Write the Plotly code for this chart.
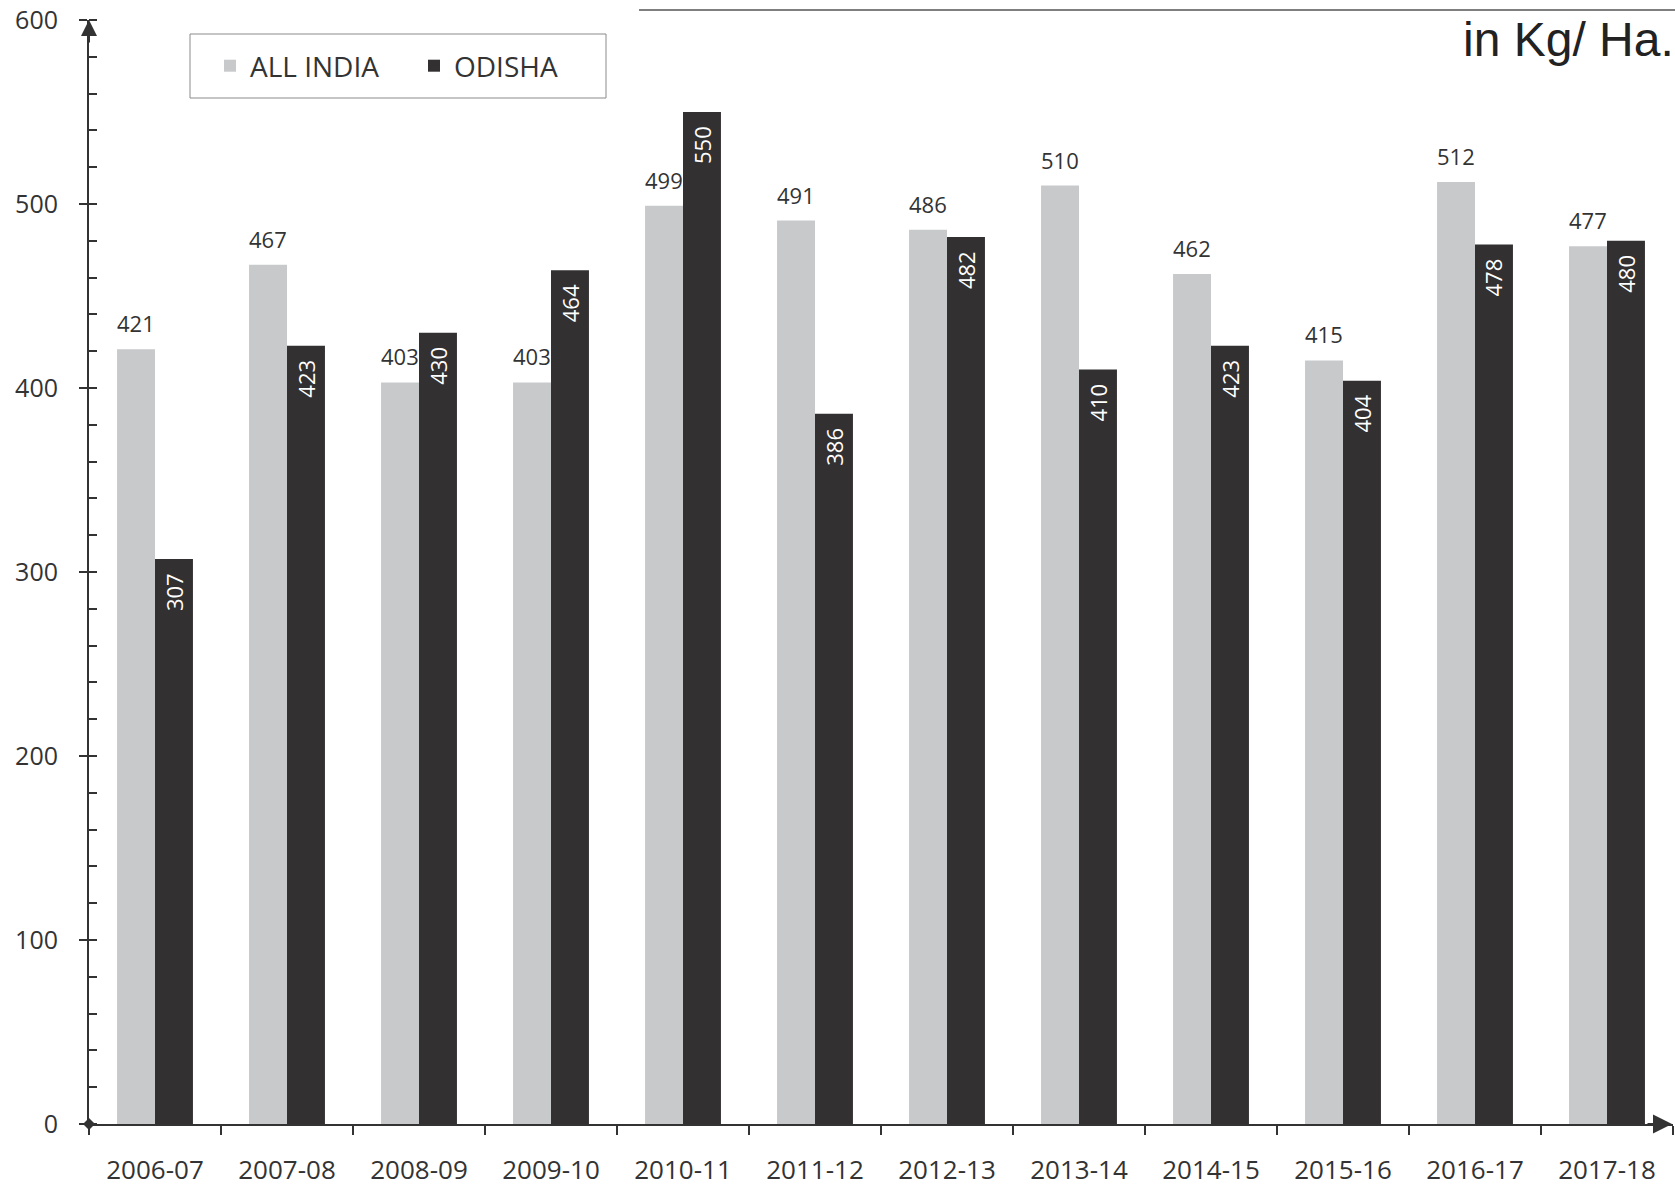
import plotly.graph_objects as go

years = ["2006-07", "2007-08", "2008-09", "2009-10", "2010-11", "2011-12",
         "2012-13", "2013-14", "2014-15", "2015-16", "2016-17", "2017-18"]
all_india = [421, 467, 403, 403, 499, 491, 486, 510, 462, 415, 512, 477]
odisha = [307, 423, 430, 464, 550, 386, 482, 410, 423, 404, 478, 480]

GRAY = "#c8c9cb"
DARK = "#323031"
TXT = "#333333"
FONT = "Open Sans"

W, H = 1675, 1186
ML, MR, MT, MB = 89, 2, 20, 62
PW, PH = W - ML - MR, H - MT - MB
# helpers to convert page pixels to paper fractions
def px(x):
    return (x - ML) / PW
def py(y):
    return (H - MB - y) / PH

fig = go.Figure()
fig.add_trace(go.Bar(x=years, y=all_india, name="ALL INDIA", marker_color=GRAY,
                     marker_line_width=0))
fig.add_trace(go.Bar(x=years, y=odisha, name="ODISHA", marker_color=DARK,
                     marker_line_width=0))

BAR_HALF = (1 - 0.425) / 2 * (PW / len(years)) / 2

annotations = []
for yr, v in zip(years, all_india):
    annotations.append(dict(x=yr, y=v, text=str(v), showarrow=False, xshift=-BAR_HALF,
                            yanchor="bottom", yshift=9, font=dict(family=FONT, size=22, color=TXT)))
for yr, v in zip(years, odisha):
    annotations.append(dict(x=yr, y=v, text=str(v), showarrow=False, xshift=BAR_HALF,
                            yanchor="top", yshift=-12, textangle=-90,
                            font=dict(family=FONT, size=22, color="white")))

# unit label
annotations.append(dict(xref="paper", yref="paper", x=px(1461), y=py(40),
                        xanchor="left", yanchor="middle", text="in Kg/ Ha.", showarrow=False,
                        font=dict(family="Liberation Sans", size=48, color="#222222")))
# axis arrows
annotations.append(dict(xref="paper", yref="y", x=0, y=600, ax=0, ay=24, axref="pixel", ayref="pixel",
                        showarrow=True, arrowhead=2, arrowsize=1.6, arrowwidth=2, arrowcolor="#333333",
                        text=""))
annotations.append(dict(xref="paper", yref="y", x=px(1672), y=0, ax=-26, ay=0,
                        showarrow=True, arrowhead=2, arrowsize=1.9, arrowwidth=2, arrowcolor="#333333",
                        text=""))

dx, dy = 6 / PW, 6 / PH
shapes = [
    # diamond at origin
    dict(type="path", xref="paper", yref="paper",
         path=f"M 0 {-dy} L {dx} 0 L 0 {dy} L {-dx} 0 Z",
         fillcolor="#333333", line=dict(width=0)),
    # top rule
    dict(type="line", xref="paper", yref="paper", x0=px(639), x1=1.01,
         y0=py(10), y1=py(10), line=dict(color="#555555", width=1.5)),
    # legend box
    dict(type="rect", xref="paper", yref="paper", x0=px(190), x1=px(606),
         y0=py(98), y1=py(34), line=dict(color="#8a8a8a", width=1),
         fillcolor="rgba(0,0,0,0)"),
]

fig.update_layout(
    width=W, height=H,
    margin=dict(l=ML, r=MR, t=MT, b=MB, autoexpand=False),
    paper_bgcolor="white", plot_bgcolor="white",
    barmode="group", bargap=0.425, bargroupgap=0,
    font=dict(family=FONT, color=TXT),
    showlegend=True,
    legend=dict(orientation="h", xref="paper", yref="paper", x=px(229) - 0.012,
                xanchor="left", y=py(66), yanchor="middle",
                font=dict(family=FONT, size=28, color=TXT), bgcolor="rgba(0,0,0,0)",
                borderwidth=0, entrywidth=159, entrywidthmode="pixels"),
    annotations=annotations,
    shapes=shapes,
)
fig.update_xaxes(
    type="category", showline=True, linecolor="#333333", linewidth=2,
    ticks="outside", tickson="boundaries", ticklen=9, tickwidth=2, tickcolor="#333333",
    tickfont=dict(family=FONT, size=26, color=TXT), ticklabelstandoff=22,
    ticklabeloverflow="allow",
    showgrid=False, zeroline=False,
)
fig.update_yaxes(
    range=[0, 600], dtick=100, showline=True, linecolor="#333333", linewidth=2,
    ticks="outside", ticklen=8, tickwidth=2, tickcolor="#333333",
    minor=dict(dtick=20, ticks="inside", ticklen=8, tickwidth=2, tickcolor="#333333", showgrid=False),
    tickfont=dict(family=FONT, size=25, color=TXT), ticklabelstandoff=16,
    ticklabeloverflow="allow",
    showgrid=False, zeroline=False,
)

fig.write_html("out.html", config={"displayModeBar": False},
               post_script="document.body.style.margin='0';")
